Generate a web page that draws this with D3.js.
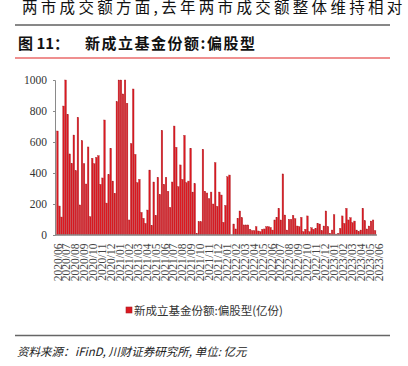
<!DOCTYPE html>
<html>
<head>
<meta charset="utf-8">
<script src="https://cdn.jsdelivr.net/npm/d3@7"></script>
<style>
  body { margin: 0; background: #fff; }
  svg { display: block; }
</style>
</head>
<body>
<div id="chart"></div>
<script>
// weekly new share volume, equity-biased funds (100m shares)
const shares = [
  671, 187, 116, 832, 1000, 778, 523, 462, 645, 415, 759, 194, 609, 460, 329, 568, 118, 495, 460, 501,
  512, 327, 368, 742, 206, 389, 559, 348,
  269, 860, 1000, 1000, 910, 1000, 850, 97, 590, 942, 520, 338, 359, 146, 108, 75, 161, 419, 62, 342,
  127, 372, 262, 675, 327, 372, 282, 178, 342, 703,
  566, 312, 452, 359, 643, 338, 348, 559, 277, 331, 11, 86, 86, 553, 282, 271, 234, 277, 200, 467,
  185, 277, 258, 82, 191, 376, 387, 0, 71,
  39, 108, 155, 112, 65, 65, 65, 37, 28, 28, 54, 26, 22, 37, 39, 54, 54, 49, 32, 97,
  114, 172, 97, 394, 129, 32, 101, 101, 127, 105, 58, 54, 114, 22,
  37, 123, 22, 47, 37, 43, 75, 71, 28, 58, 155, 54, 11, 32, 131, 6, 11, 43, 123, 75,
  172, 97, 112, 80, 90, 32, 22, 32, 172, 92, 39, 58, 90, 97, 28
];

const months = [
  "2020/06", "2020/07", "2020/08", "2020/09", "2020/10", "2020/11", "2020/12",
  "2021/01", "2021/02", "2021/03", "2021/04", "2021/05", "2021/06", "2021/07", "2021/08", "2021/09", "2021/10", "2021/11", "2021/12",
  "2022/01", "2022/02", "2022/03", "2022/04", "2022/05", "2022/06", "2022/07", "2022/08", "2022/09", "2022/10", "2022/11", "2022/12",
  "2023/01", "2023/02", "2023/03", "2023/04", "2023/05", "2023/06"
];

const yTicks = [0, 200, 400, 600, 800, 1000];

const seriesName = "新成立基金份额:偏股型(亿份)";
const figTitle = "新成立基金份额:偏股型";

const W = 408, H = 366;
const cjk = "'Noto Sans CJK SC', 'Noto Sans', sans-serif";
const serif = "'Liberation Serif', 'DejaVu Serif', serif";

const svg = d3.select("#chart").append("svg")
  .attr("width", W)
  .attr("height", H);

svg.append("rect").attr("width", W).attr("height", H).attr("fill", "#fff");

// text above the figure (runs off the right edge like the page it came from)
svg.append("text")
  .attr("x", 22).attr("y", 12.5)
  .attr("font-family", cjk).attr("font-size", 15.5)
  .attr("letter-spacing", 3.3)
  .attr("fill", "#111")
  .text("两市成交额方面,去年两市成交额整体维持相对");

svg.append("line")
  .attr("x1", 15).attr("x2", 390).attr("y1", 25).attr("y2", 25)
  .attr("stroke", "#111").attr("stroke-width", 1);

svg.append("text")
  .attr("x", 18).attr("y", 49)
  .attr("font-family", cjk).attr("font-size", 15).attr("font-weight", "bold")
  .attr("fill", "#111")
  .text("图 11：");

svg.append("text")
  .attr("x", 85).attr("y", 49)
  .attr("font-family", cjk).attr("font-size", 15).attr("font-weight", "bold")
  .attr("letter-spacing", 1.5)
  .attr("fill", "#111")
  .text(figTitle);

svg.append("line")
  .attr("x1", 15).attr("x2", 390).attr("y1", 58).attr("y2", 58)
  .attr("stroke", "#e02020").attr("stroke-width", 1.2);

// plot
const x = d3.scaleBand()
  .domain(d3.range(shares.length))
  .range([56.5, 376])
  .paddingInner(0.22)
  .paddingOuter(0.05);

const y = d3.scaleLinear()
  .domain([0, 1000])
  .range([235, 80]);

const xLab = d3.scalePoint()
  .domain(months)
  .range([57, 378]);

svg.append("g")
  .selectAll("rect")
  .data(shares)
  .join("rect")
  .attr("x", (d, i) => x(i))
  .attr("y", d => y(d))
  .attr("width", x.bandwidth())
  .attr("height", d => y(0) - y(d))
  .attr("fill", "#dc1820")
  .attr("stroke", "#a82228")
  .attr("stroke-width", 0.35);

const yAxis = svg.append("g")
  .attr("transform", "translate(55,0)")
  .call(d3.axisLeft(y).tickValues(yTicks).tickSize(2).tickPadding(6).tickFormat(d3.format("d")));
yAxis.select(".domain").attr("stroke", "#8a8a8a");
yAxis.selectAll(".tick line").attr("stroke", "#8a8a8a");
yAxis.selectAll("text")
  .attr("font-family", serif).attr("font-size", 11.5).attr("fill", "#333");

svg.append("line")
  .attr("x1", 55).attr("x2", 377).attr("y1", y(0)).attr("y2", y(0))
  .attr("stroke", "#8a8a8a").attr("stroke-width", 1.5);

const xAxis = svg.append("g")
  .attr("transform", `translate(0,${y(0)})`)
  .call(d3.axisBottom(xLab).tickSize(0).tickPadding(0));
xAxis.select(".domain").remove();
xAxis.selectAll("text")
  .attr("font-family", serif).attr("font-size", 11.5).attr("fill", "#444")
  .attr("text-anchor", "end")
  .attr("dy", "0.35em")
  .attr("transform", "translate(0,8.5) rotate(-90)");

// legend
svg.append("rect")
  .attr("x", 126).attr("y", 307).attr("width", 6).attr("height", 6)
  .attr("fill", "#dc1820").attr("stroke", "#a82228").attr("stroke-width", 0.6);
svg.append("text")
  .attr("x", 134).attr("y", 315)
  .attr("font-family", cjk).attr("font-size", 11.5)
  .attr("fill", "#333")
  .text(seriesName);

svg.append("line")
  .attr("x1", 15).attr("x2", 390).attr("y1", 335.5).attr("y2", 335.5)
  .attr("stroke", "#666").attr("stroke-width", 1.4);

// source
const src = svg.append("text")
  .attr("x", 17).attr("y", 356)
  .attr("font-family", cjk).attr("font-size", 11.5).attr("font-style", "italic")
  .attr("fill", "#222");
src.append("tspan").text("资料来源：");
src.append("tspan").attr("x", 75).text("iFinD, 川财证券研究所, 单位: 亿元");
</script>
</body>
</html>
